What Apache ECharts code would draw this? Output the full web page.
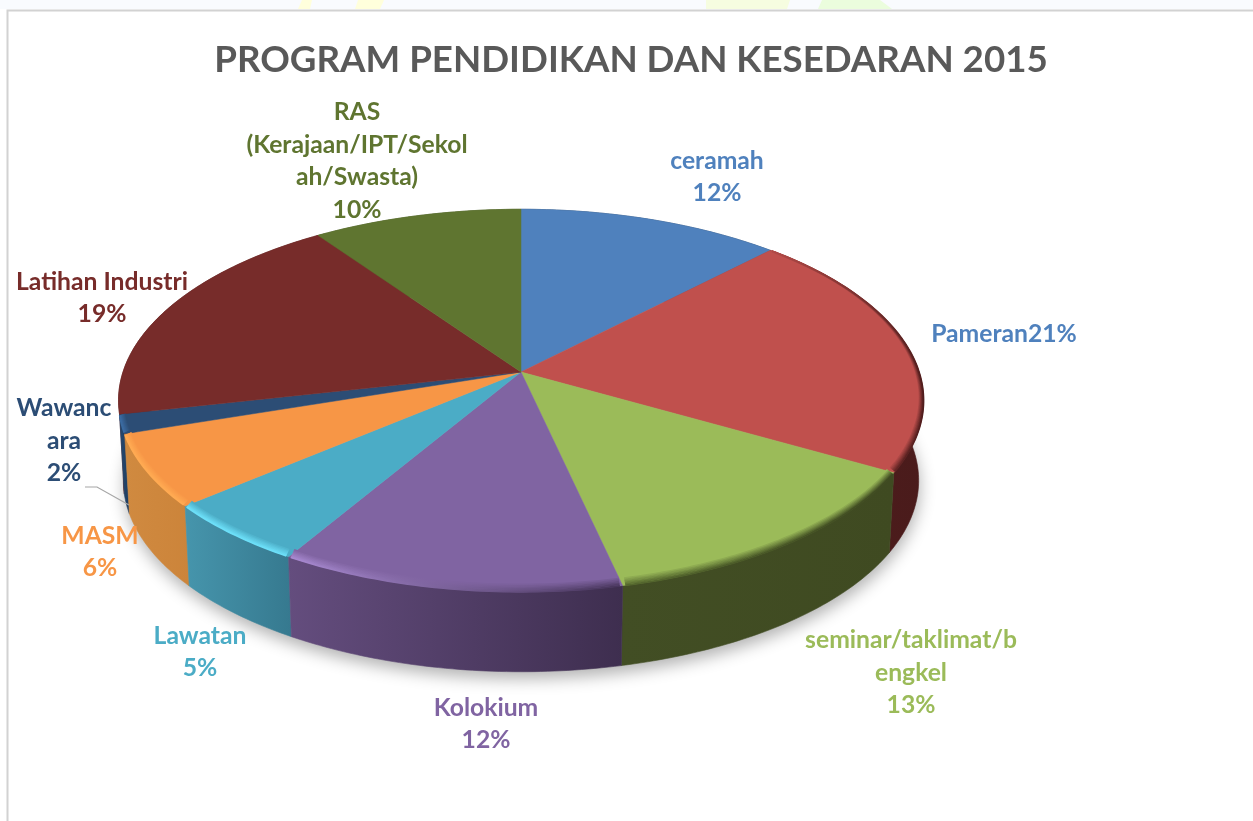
<!DOCTYPE html>
<html>
<head>
<meta charset="utf-8">
<style>html,body{margin:0;padding:0;background:#fff}#c{width:1253px;height:821px}</style>
<script src="https://cdn.jsdelivr.net/npm/echarts@6/dist/echarts.min.js"></script>
</head>
<body>
<div id="c"></div>
<script>
// ---- data ----
const titleText = 'PROGRAM PENDIDIKAN DAN KESEDARAN 2015';
const categories = ['ceramah','Pameran','seminar/taklimat/bengkel','Kolokium','Lawatan','MASM','Wawancara','Latihan Industri','RAS (Kerajaan/IPT/Sekolah/Swasta)'];
const shares = [12.2,21.1,13.2,12.0,5.3,6.1,1.6,18.8,9.7];
const labelLines = [
  ['ceramah','12%'],
  ['Pameran21%'],
  ['seminar/taklimat/b','engkel','13%'],
  ['Kolokium','12%'],
  ['Lawatan','5%'],
  ['MASM','6%'],
  ['Wawanc','ara','2%'],
  ['Latihan Industri','19%'],
  ['RAS','(Kerajaan/IPT/Sekol','ah/Swasta)','10%']
];

// ---- styling and layout ----
const topColors  = ['#4f81bd','#c0504d','#9bbb59','#8064a2','#4bacc6','#f79646','#2c4d75','#772c2a','#5f7530'];
const labelColors= ['#4f81bd','#4f81bd','#9bbb59','#8064a2','#4bacc6','#f79646','#2c4d75','#772c2a','#5f7530'];
const wallLeft   = ['#2f4d71','#4f1d1d','#424e24','#644d7e','#4695ac','#d08a40','#25486f','#5e2221','#4a5b26'];
const wallRight  = ['#2f4d71','#4a1b1b','#3f4a21','#3e2e4f','#36798f','#cc843a','#1f3d60','#5e2221','#4a5b26'];
const rimLeft    = [null,'#b34b48','#55682e','#a98ad2','#6cdff8','#ffaa52','#3a6aa0',null,null];
const rimRight   = [null,'#4f1c1c','#3f4a21','#46345a','#6cdff8','#ffaa52','#3a6aa0',null,null];
const labelCentres = [[717,177],[1004,334],[911,673],[486,724],[200,652],[100,552],[64,441],[102,298],[357,161]];

const cx = 521, cy = 372, R = 398, S = 187, P = 0.149;  // perspective disc
const depth = 80, baseShrink = 0.988;

const total = shares.reduce((a,b)=>a+b,0);
const bounds = [0];
shares.forEach(v => bounds.push(bounds[bounds.length-1] + v/total*Math.PI*2));

function proj(a){
  const u = Math.sin(a), v = -Math.cos(a), d = 1 - P*v;
  return [cx + R*u/d, cy + S*v/d];
}
function base(a){
  const p = proj(a);
  return [cx + (p[0]-cx)*baseShrink, p[1] + depth];
}
function arc(a0, a1, fn){
  const n = Math.max(4, Math.ceil((a1-a0)/0.015)), pts = [];
  for (let i=0;i<=n;i++) pts.push(fn(a0+(a1-a0)*i/n));
  return pts;
}
function hexMix(a,b,t){
  const pa=parseInt(a.slice(1),16), pb=parseInt(b.slice(1),16);
  const f=s=>Math.round(((pa>>s)&255)*(1-t)+((pb>>s)&255)*t);
  return 'rgb('+f(16)+','+f(8)+','+f(0)+')';
}
function hGrad(l,r){ return new echarts.graphic.LinearGradient(0,0,1,0,[{offset:0,color:l},{offset:1,color:r}]); }

const idx = shares.map((_,i)=>i);
// painter's order for the side walls: farthest slice first
const wallOrder = idx.slice().sort((a,b)=>
  (-Math.cos((bounds[a]+bounds[a+1])/2)) - (-Math.cos((bounds[b]+bounds[b+1])/2)));

function renderShadow(){
  return {type:'polygon', silent:true, shape:{points:arc(0,Math.PI*2,base)},
    style:{fill:'#cccccc', shadowColor:'rgba(0,0,0,0.3)', shadowBlur:16, shadowOffsetY:7, shadowOffsetX:1}};
}
function renderWall(params){
  const i = wallOrder[params.dataIndex];
  const top = arc(bounds[i],bounds[i+1],proj), bot = arc(bounds[i],bounds[i+1],base).reverse();
  return {type:'polygon', silent:true, shape:{points:top.concat(bot)},
    style:{fill:hGrad(wallLeft[i],wallRight[i]), stroke:hGrad(wallLeft[i],wallRight[i]), lineWidth:0.6}};
}
function renderTop(params){
  const i = params.dataIndex;
  const pts = [[cx,cy]].concat(arc(bounds[i],bounds[i+1],proj));
  return {type:'polygon', silent:true, shape:{points:pts},
    style:{fill:topColors[i], stroke:topColors[i], lineWidth:0.5}};
}
function renderRim(params){
  const i = params.dataIndex;
  if (!rimLeft[i]) return {type:'group',children:[]};
  const steps = 7, children = [];
  for (let j=steps-1;j>=0;j--){
    const t = j/(steps-1);
    const fn = a => {
      const p = proj(a), v = -Math.cos(a);
      const s = Math.min(1, Math.max(0.15, v + 0.7));
      return [cx+(p[0]-cx)*(1-0.014*t*s), cy+(p[1]-cy)*(1-0.04*t*s)];
    };
    children.push({type:'polyline', silent:true, shape:{points:arc(bounds[i]+0.006,bounds[i+1]-0.006,fn)},
      style:{fill:null, lineWidth:1.8, lineCap:'butt',
        stroke:hGrad(hexMix(rimLeft[i],topColors[i],t),hexMix(rimRight[i],topColors[i],t))}});
  }
  return {type:'group',children};
}
function renderLabel(params){
  const i = params.dataIndex, c = labelCentres[i];
  return {type:'text', silent:true, style:{
    text:labelLines[i].join('\n'), x:c[0], y:c[1], align:'center', verticalAlign:'middle',
    fill:labelColors[i], fontFamily:'Lato', fontWeight:'bold', fontSize:24.7, lineHeight:32.5}};
}
const custom = (name, data, fn, z) => ({type:'custom', name, coordinateSystem:'none', data, renderItem:fn, z, animation:false, silent:true});

const chart = echarts.init(document.getElementById('c'), null, {renderer:'canvas'});
chart.setOption({
  animation:false,
  backgroundColor:'#ffffff',
  title:{text:titleText, left:626, top:37, textAlign:'center',
    textStyle:{fontFamily:'Lato', fontWeight:'bold', fontSize:36.7, color:'#595959'}},
  graphic:[
    {type:'rect', z:0, silent:true, shape:{x:0,y:0,width:1253,height:9}, style:{fill:'#f9fbfe'}},
    {type:'polygon', z:0, silent:true, shape:{points:[[298,9],[302,0],[312,0],[310,9]]}, style:{fill:'#ffffdc'}},
    {type:'polygon', z:0, silent:true, shape:{points:[[355,9],[358,0],[384,0],[380,9]]}, style:{fill:'#ffffdc'}},
    {type:'polygon', z:0, silent:true, shape:{points:[[706,9],[706,0],[790,0],[787,9]]}, style:{fill:'#f6fde0'}},
    {type:'polygon', z:0, silent:true, shape:{points:[[818,9],[822,0],[880,0],[892,9]]}, style:{fill:'#ebfddd'}},
    {type:'polyline', z:1, silent:true, shape:{points:[[7.5,821],[7.5,10.5],[1253,10.5]]}, style:{fill:null, stroke:'#d2d2d2', lineWidth:2}},
    {type:'polyline', z:30, silent:true, shape:{points:[[85,487],[97,487],[129,505]]}, style:{fill:null, stroke:'#a6a6a6', lineWidth:1.2}}
  ],
  series:[
    custom('shadow',[0],renderShadow,2),
    custom('walls',wallOrder.map(i=>shares[i]),renderWall,3),
    custom('tops',shares,renderTop,4),
    custom('rims',shares,renderRim,5),
    custom('labels',shares,renderLabel,6)
  ]
});
</script>
</body>
</html>
